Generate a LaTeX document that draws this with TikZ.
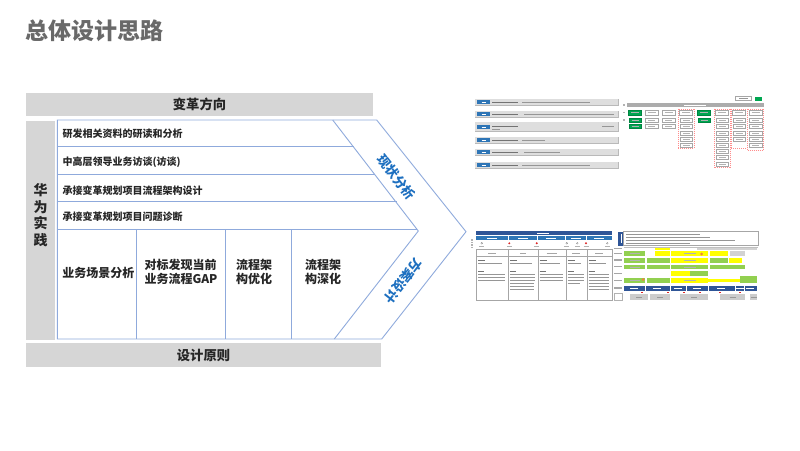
\documentclass[tikz,border=0pt]{standalone}
\usepackage{fontspec}
\setmainfont{Noto Sans CJK SC}
\definecolor{barg}{RGB}{214,214,214}
\definecolor{txt}{RGB}{38,38,38}
\definecolor{titleg}{RGB}{105,105,105}
\definecolor{bline}{RGB}{143,170,220}
\definecolor{btxt}{RGB}{30,112,192}
\definecolor{thgray}{RGB}{222,222,222}
\definecolor{thdark}{RGB}{150,150,150}
\definecolor{thblue}{RGB}{46,117,182}
\definecolor{thnavy}{RGB}{47,85,151}
\definecolor{thgreen}{RGB}{0,166,81}
\definecolor{lgreen}{RGB}{146,208,80}
\definecolor{lyellow}{RGB}{255,255,0}
\definecolor{thred}{RGB}{220,40,40}
\definecolor{thorange}{RGB}{240,130,60}
\begin{document}
\begin{tikzpicture}[x=1pt,y=-1pt,
  graybar/.style={fill=barg, draw=none, inner sep=0, text=txt,
    font=\fontsize{13.3}{15}\selectfont\bfseries},
  rowtxt/.style={anchor=west, inner sep=0, text=txt,
    font=\fontsize{10}{12}\selectfont\bfseries},
  celltxt/.style={inner sep=0, align=left, text=txt,
    font=\fontsize{12}{14}\selectfont\bfseries},
  blueln/.style={draw=bline, line width=0.9pt},
  phase/.style={inner sep=0, text=btxt, font=\fontsize{13}{15}\selectfont\bfseries},
  tline/.style={draw=thdark, line width=0.6pt},
  dline/.style={draw=gray!90!black, line width=0.8pt},
  obox/.style={draw=gray!70, line width=0.3pt, fill=white},
  gbox/.style={draw=thgreen!80!black, line width=0.3pt, fill=thgreen},
]
\useasboundingbox (0,0) rectangle (800,450);

% title
\node[anchor=west, inner sep=0, text=titleg, font=\fontsize{23}{25}\selectfont\bfseries]
  (title) at (25.5,31) {总体设计思路};

% gray bars
\node[graybar, minimum width=347pt, minimum height=23pt] (topbar) at (199.5,104.5) {变革方向};
\node[graybar, minimum width=355pt, minimum height=24pt] (botbar) at (203.5,355) {设计原则};
\node[fill=barg, inner sep=0, minimum width=29pt, minimum height=219pt] (leftbar) at (40.5,230.5) {};
\node[inner sep=0, align=center, text=txt, font=\fontsize{14}{16.5}\selectfont\bfseries]
  (lefttxt) at (40.5,215) {华\\为\\实\\践};

% main chevron block
\coordinate (bl) at (57.3,120);
\coordinate (ot) at (376.7,120);
\coordinate (tip) at (466,231.7);
\coordinate (ob) at (381.7,339);
\coordinate (bb) at (57.3,339);
\coordinate (it) at (332.7,120);
\coordinate (itip) at (418.3,231);
\coordinate (ib) at (334.3,339);
\fill[white] (bl) -- (ot) -- (tip) -- (ob) -- (bb) -- cycle;
\draw[blueln] (bl) -- (ot) -- (tip) -- (ob) -- (bb) -- cycle;
\draw[blueln] (it) -- (itip) -- (ib);
% rows
\coordinate (r1l) at (57.3,146.7); \coordinate (r1r) at (353.7,146.7);
\coordinate (r2l) at (57.3,174.3); \coordinate (r2r) at (375.3,174.3);
\coordinate (r3l) at (57.3,201.7); \coordinate (r3r) at (396.8,201.7);
\coordinate (r4l) at (57.3,229);   \coordinate (r4r) at (416.6,229);
\draw[blueln] (r1l) -- (r1r);
\draw[blueln] (r2l) -- (r2r);
\draw[blueln] (r3l) -- (r3r);
\draw[blueln] (r4l) -- (r4r);
% columns
\coordinate (c1t) at (136,229); \coordinate (c1b) at (136,339);
\coordinate (c2t) at (225,229); \coordinate (c2b) at (225,339);
\coordinate (c3t) at (291,229); \coordinate (c3b) at (291,339);
\draw[blueln] (c1t) -- (c1b);
\draw[blueln] (c2t) -- (c2b);
\draw[blueln] (c3t) -- (c3b);

% row texts
\node[rowtxt] (t1) at (62.3,133.3) {研发相关资料的研读和分析};
\node[rowtxt] (t2) at (62.3,162) {中高层领导业务访谈(访谈)};
\node[rowtxt] (t3) at (62.3,190.5) {承接变革规划项目流程架构设计};
\node[rowtxt] (t4) at (62.3,216.5) {承接变革规划项目问题诊断};

% cell texts
\node[celltxt] (k1) at (98.3,272.7) {业务场景分析};
\node[celltxt] (k2) at (181,272.3) {对标发现当前\\业务流程GAP};
\node[celltxt] (k3) at (254,272.3) {流程架\\构优化};
\node[celltxt] (k4) at (323,272.3) {流程架\\构深化};

% phase labels
\node[phase, rotate=-52] (p1) at (396.7,177) {现状分析};
\node[phase, rotate=-128] (p2) at (403,281) {方案设计};

% ---------------- thumbnail 1 ----------------
\foreach \y/\h/\a/\b in {102.3/3.3/520/590, 114.3/3.3/522/614, 126.7/4.5/600/614, 140/3.3/520/545, 152.3/3.3/522/560, 165/3.3/520/590}{
  \fill[thgray] (475,\y-\h) rectangle (618,\y+\h);
  \draw[gray!55, line width=0.5pt] (475,\y+\h) -- (618,\y+\h) -- (618,\y-\h);
  \fill[thblue] (477,\y-1.9) rectangle (490,\y+1.9);
  \draw[white, line width=0.4pt] (481.5,\y) -- (485.5,\y);
  \draw[dline] (492,\y) -- (518,\y);
  \draw[tline] (\a+2,\y) -- (\b,\y);
}
\draw[tline] (492,129.2) -- (500,129.2);

% ---------------- thumbnail 2 ----------------
\foreach \y in {105,112.7,120}{ \fill[gray!60] (623.2,\y-0.7) rectangle (625,\y+0.7); }
\draw[gray!70, line width=0.3pt] (735,96.5) rectangle (751,100.5);
\draw[thdark, line width=0.4pt] (739,98.5) -- (748,98.5);
\fill[thgreen] (755,96.5) rectangle (762,100.5);
\fill[gray!65] (627.3,102.7) rectangle (764,107.3);
\draw[white, line width=0.5pt] (684,105) -- (706,105);
% dashed containers
\foreach \c/\bot in {686/148.5, 722/167.5, 739/148.3, 755.5/150.5}{
  \draw[red!45, dashed, line width=0.35pt, dash pattern=on 1pt off 1pt] (\c-8,108.7) rectangle (\c+8,\bot);
}
% column header boxes
\foreach \c/\s in {635/gbox, 651.5/obox, 668.5/obox, 686/obox, 704/gbox, 722/obox, 739/obox, 755.5/obox}{
  \draw[\s] (\c-6.5,110) rectangle (\c+6.5,115.3);
  \draw[gray!60, line width=0.4pt] (\c-4,112.6) -- (\c+4,112.6);
}
% sub boxes
\foreach \c/\n/\s in {635/2/gbox, 651.5/2/obox, 668.5/2/obox, 686/5/obox, 704/1/gbox, 722/8/obox, 739/4/obox, 755.5/5/obox}{
  \foreach \i in {1,...,\n}{
    \pgfmathsetmacro{\yy}{118.3+(\i-1)*6.2}
    \draw[\s] (\c-6.2,\yy) rectangle (\c+6.2,\yy+4);
    \draw[gray!60, line width=0.35pt] (\c-3.5,\yy+2) -- (\c+3.5,\yy+2);
  }
}

% ---------------- thumbnail 3 ----------------
\fill[thnavy] (476,231) rectangle (611.7,235);
\draw[white, line width=0.4pt] (537,233) -- (549,233);
\fill[thblue] (476,235.6) rectangle (611.7,239.8);
\foreach \x in {508.3,537.7,565.7,586.7}{ \draw[white, line width=0.6pt] (\x,235.6) -- (\x,239.8); }
\foreach \x in {492,523,551,576,599}{ \draw[white, line width=0.4pt] (\x-5,237.7) -- (\x+5,237.7); }
\foreach \y in {240,242.5,245,247.5}{ \fill[gray!60] (471,\y-0.6) rectangle (473,\y+0.6); }
\foreach \x in {509.3,536.7,586}{ \fill[thred] (\x,243.3) circle (1.1); }
\foreach \x in {481.7,566.7,577.3,607.3}{ \draw[gray, line width=0.3pt] (\x,243.3) circle (0.9); }
\foreach \x in {481.7,509.3,536.7,566.7,577.3,586,607.3}{ \draw[gray!60, line width=0.4pt] (\x-2.5,246.6) -- (\x+2.5,246.6); }
\draw[gray!70, line width=0.4pt] (476,249.5) rectangle (611.7,300);
\draw[gray!70, line width=0.4pt] (476,256.5) -- (611.7,256.5);
\foreach \x in {508.3,537.7,565.7,586.7}{ \draw[gray!70, line width=0.4pt] (\x,249.5) -- (\x,300); }
\foreach \x/\w in {492/4, 523/3, 551.7/5, 576.2/4, 599.2/4}{ \draw[gray!70, line width=0.4pt] (\x-\w,253) -- (\x+\w,253); }
\foreach \x/\r in {476/32.3, 508.3/29.4, 537.7/28, 565.7/21, 586.7/25}{
  \draw[dline, line width=0.5pt] (\x+2,260) -- (\x+9,260);
  \draw[tline, line width=0.4pt] (\x+2,263) -- (\x+\r-6,263);
  \draw[dline, line width=0.5pt] (\x+2,271) -- (\x+8,271);
  \foreach \y in {274,277,280}{ \draw[tline, line width=0.4pt] (\x+2,\y) -- (\x+\r-3,\y); }
}
\foreach \y in {283,286,289}{ \draw[tline, line width=0.4pt] (510.3,\y) -- (534,\y); \draw[tline, line width=0.4pt] (588.7,\y) -- (609,\y); }
\draw[tline, line width=0.4pt] (567.7,283) -- (580,283);

% ---------------- thumbnail 4 ----------------
\fill[thnavy] (618,231.5) rectangle (623.5,245.5);
\draw[white, line width=0.4pt] (620.7,234) -- (620.7,243);
\draw[gray!70, line width=0.4pt] (623.5,231.5) rectangle (758,245.5);
\foreach \y/\b in {234/700, 237/710, 240/735, 243/690}{ \draw[tline, line width=0.4pt] (626,\y) -- (\b,\y); }
\foreach \y in {248.5,253.2,260,266.7,273.5,280.5,288}{ \fill[gray!70] (614,\y-0.7) rectangle (622,\y+0.7); }
\draw[gray!50, line width=0.3pt] (623.5,247.3) -- (758,247.3);
% row 1
\fill[lyellow] (655,247.6) rectangle (670,250.3);
\fill[gray!35] (697,247.6) rectangle (757,250.3);
% row 2
\fill[lgreen] (624,251) rectangle (645,255.5);
\fill[lyellow] (655,251) rectangle (670,255.5);
\fill[lyellow] (671,251) rectangle (708,255.5);
\fill[lyellow] (710,251) rectangle (728,255.5);
\fill[gray!35] (730,251) rectangle (745,255.5);
% row 3
\fill[lgreen] (624,258) rectangle (645,262.5);
\fill[lgreen] (647,258) rectangle (670,262.5);
\fill[lyellow] (671,258) rectangle (708,262.5);
\fill[lgreen] (710,258) rectangle (728,262.5);
\fill[lyellow] (729,258) rectangle (742,262.5);
% row 4
\fill[lgreen] (624,265) rectangle (645,269);
\fill[lgreen] (647,265) rectangle (670,269);
\fill[lgreen] (671,265) rectangle (708,269);
\fill[lgreen] (710,265) rectangle (745,269);
% row 5
\fill[lyellow] (671,271) rectangle (690,276);
\fill[lgreen] (690,271) rectangle (708,276);
% row 6
\fill[lgreen] (624,278) rectangle (645,283);
\fill[lgreen] (647,278) rectangle (670,283);
\fill[lyellow] (671,278) rectangle (708,283);
\fill[lyellow] (708,279) rectangle (740,282);
\fill[lgreen] (740,275.5) rectangle (757,283);
\foreach \y in {253.2,260,266.7,280.5}{ \draw[gray!60, line width=0.3pt] (630,\y) -- (640,\y); \draw[gray!60, line width=0.3pt] (684,\y) -- (696,\y); }
\fill[thorange] (701.5,254) circle (1.5);
\fill[thorange] (643,279.5) circle (1.5);
% blue bar
\fill[thnavy] (624,285.5) rectangle (757,291);
\foreach \x in {645,670,686,708,735,744}{ \draw[white, line width=0.6pt] (\x,285.5) -- (\x,291); }
\foreach \x in {634,657,678,697,721,740,750}{ \draw[white, line width=0.35pt] (\x-4,288.2) -- (\x+4,288.2); }
\foreach \x in {642,668,684,700,720,740}{ \fill[thred] (\x-0.6,291.5) rectangle (\x+0.6,293.3); }
% bottom gray row
\draw[gray!60, line width=0.3pt, fill=white] (614,293.5) rectangle (622,300);
\foreach \a/\b in {630/648, 650/670, 680/708, 720/745, 750/757}{
  \fill[gray!40] (\a,293.5) rectangle (\b,300);
  \draw[gray!80, line width=0.4pt] ({(\a+\b)/2-3},296.8) -- ({(\a+\b)/2+3},296.8);
}
\end{tikzpicture}
\end{document}
